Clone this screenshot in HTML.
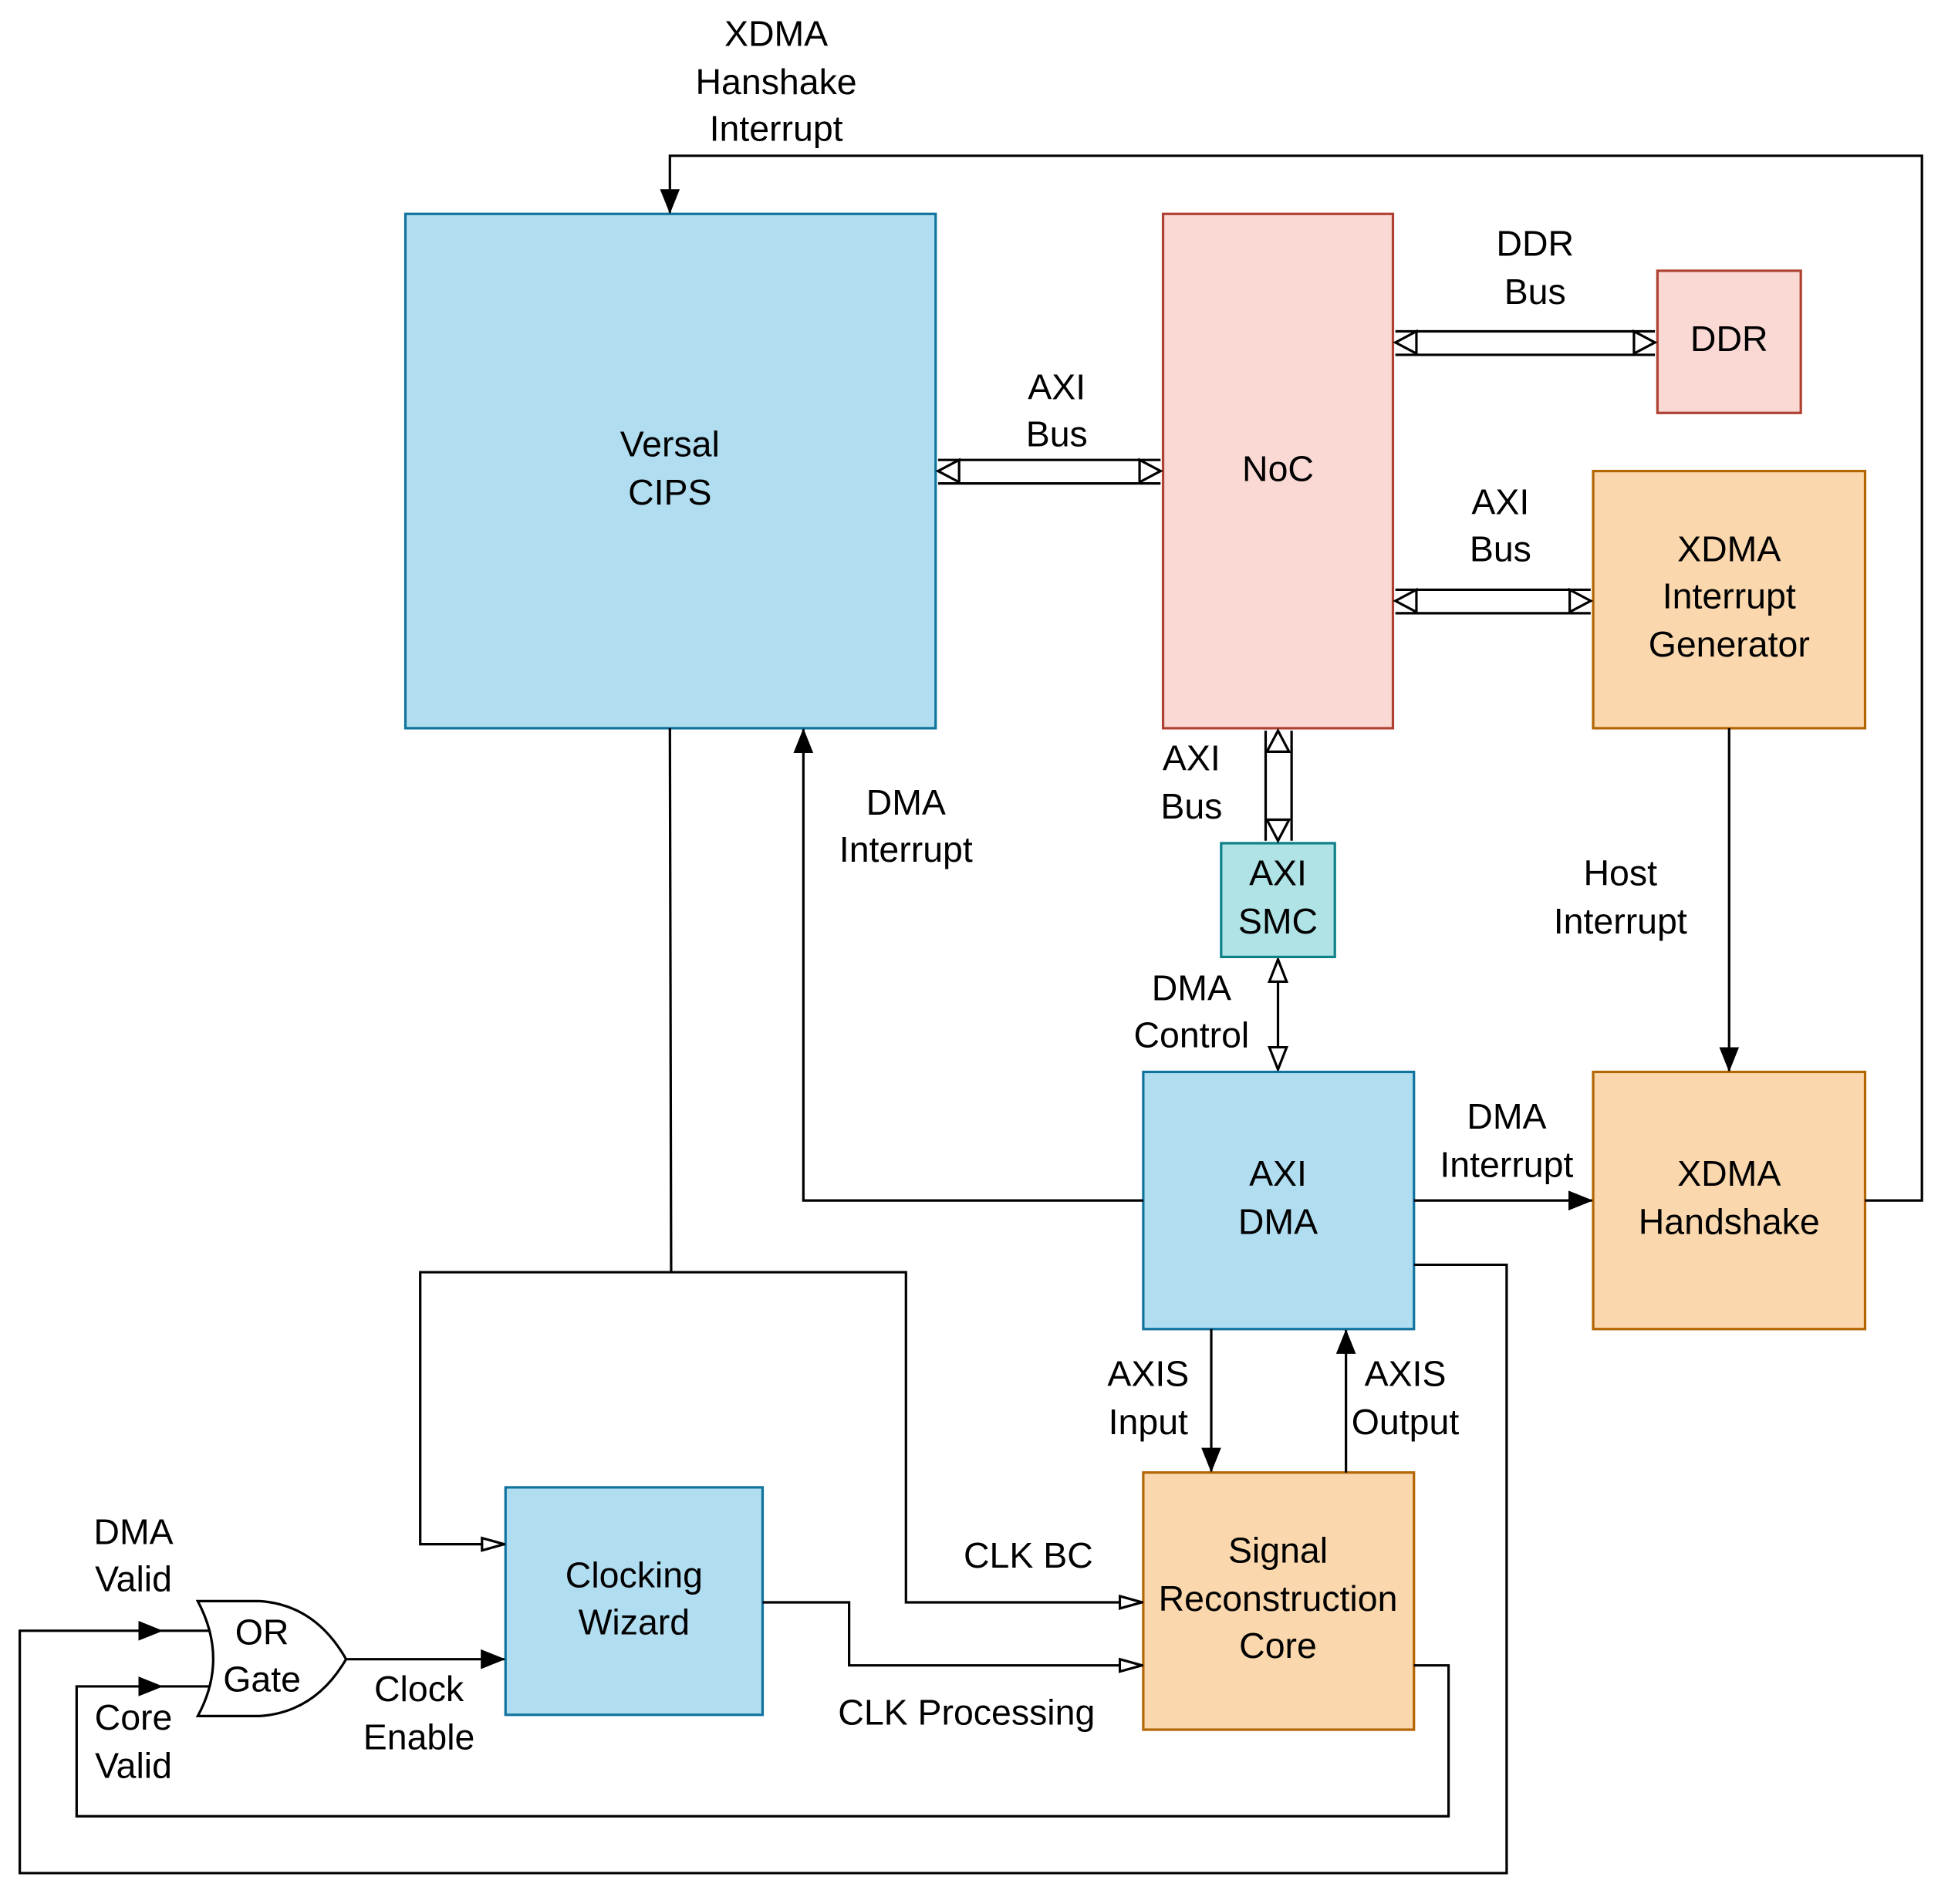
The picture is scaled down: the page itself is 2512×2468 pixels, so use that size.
<!DOCTYPE html>
<html><head><meta charset="utf-8"><style>html,body{margin:0;padding:0;background:#fff}svg{display:block}</style></head>
<body>
<svg width="2512" height="2468" viewBox="0 0 1568 1540" preserveAspectRatio="none" xmlns="http://www.w3.org/2000/svg" font-family="Liberation Sans, sans-serif" font-size="29">
<defs>
<marker id="a" markerWidth="20" markerHeight="16" refX="19" refY="8" orient="auto" markerUnits="userSpaceOnUse"><path d="M0,0L20,8L0,16z" fill="#000"/></marker>
<marker id="o" markerWidth="20" markerHeight="14" refX="19" refY="7" orient="auto" markerUnits="userSpaceOnUse"><path d="M1,2L19,7L1,12z" fill="#fff" stroke="#000" stroke-width="2"/></marker>
<marker id="h" markerWidth="20" markerHeight="18" refX="19" refY="9" orient="auto-start-reverse" markerUnits="userSpaceOnUse"><path d="M1,2L19,9L1,16z" fill="#fff" stroke="#000" stroke-width="2"/></marker>
</defs>
<g stroke-width="2">
<rect x="328" y="173" width="429" height="416" fill="#b1ddf0" stroke="#10739e"/>
<rect x="941" y="173" width="186" height="416" fill="#fad9d5" stroke="#ae4132"/>
<rect x="1341" y="219" width="116" height="115" fill="#fad9d5" stroke="#ae4132"/>
<rect x="1289" y="381" width="220" height="208" fill="#fad7ac" stroke="#b46504"/>
<rect x="988" y="682" width="92" height="92" fill="#b0e3e6" stroke="#0e8088"/>
<rect x="925" y="867" width="219" height="208" fill="#b1ddf0" stroke="#10739e"/>
<rect x="1289" y="867" width="220" height="208" fill="#fad7ac" stroke="#b46504"/>
<rect x="925" y="1191" width="219" height="208" fill="#fad7ac" stroke="#b46504"/>
<rect x="409" y="1203" width="208" height="184" fill="#b1ddf0" stroke="#10739e"/>
</g>
<g fill="none" stroke="#000" stroke-width="2">
<path d="M759,372H939M759,391H939"/>
<path d="M759,381l17,-9v18z M939,381l-17,-9v18z" fill="#fff"/>
<path d="M1129,268H1339M1129,287H1339"/>
<path d="M1129,277l17,-9v18z M1339,277l-17,-9v18z" fill="#fff"/>
<path d="M1129,477H1287M1129,496H1287"/>
<path d="M1129,486l17,-9v18z M1287,486l-17,-9v18z" fill="#fff"/>
<path d="M1024,591V680M1045,591V680"/>
<path d="M1034,591l-9,17h18z M1034,680l-9,-17h18z" fill="#fff"/>
<path d="M1034,776V865" marker-start="url(#h)" marker-end="url(#h)"/>
<path d="M1509,971H1555V126H542V172" marker-end="url(#a)"/>
<path d="M1399,589V866" marker-end="url(#a)"/>
<path d="M1144,971H1288" marker-end="url(#a)"/>
<path d="M925,971H650V590" marker-end="url(#a)"/>
<path d="M542,589L543,1029H340V1249H408" marker-end="url(#o)"/>
<path d="M543,1029H733V1296H924" marker-end="url(#o)"/>
<path d="M617,1296H687V1347H924" marker-end="url(#o)"/>
<path d="M980,1075V1190" marker-end="url(#a)"/>
<path d="M1089,1191V1076" marker-end="url(#a)"/>
<path d="M1144,1023H1219V1515H16V1319H131" marker-end="url(#a)"/>
<path d="M1144,1347H1172V1469H62V1364H131" marker-end="url(#a)"/>
<path d="M131,1319H172M131,1364H172"/>
<path d="M280,1342H408" marker-end="url(#a)"/>
<path d="M160,1295H210Q255,1298 280,1342Q255,1385 210,1388H160Q185,1342 160,1295z" fill="#fff"/>
</g>
<g text-anchor="middle" fill="#000">
<text x="628" y="37">XDMA</text><text x="628" y="76">Hanshake</text><text x="628" y="114">Interrupt</text>
<text x="542" y="369">Versal</text><text x="542" y="408">CIPS</text>
<text x="1034" y="389">NoC</text>
<text x="1399" y="284">DDR</text>
<text x="1242" y="207">DDR</text><text x="1242" y="246">Bus</text>
<text x="855" y="323">AXI</text><text x="855" y="361">Bus</text>
<text x="1214" y="416">AXI</text><text x="1214" y="454">Bus</text>
<text x="1399" y="454">XDMA</text><text x="1399" y="492">Interrupt</text><text x="1399" y="531">Generator</text>
<text x="964" y="623">AXI</text><text x="964" y="662">Bus</text>
<text x="733" y="659">DMA</text><text x="733" y="697">Interrupt</text>
<text x="1034" y="716">AXI</text><text x="1034" y="755">SMC</text>
<text x="1311" y="716">Host</text><text x="1311" y="755">Interrupt</text>
<text x="964" y="809">DMA</text><text x="964" y="847">Control</text>
<text x="1219" y="913">DMA</text><text x="1219" y="952">Interrupt</text>
<text x="1034" y="959">AXI</text><text x="1034" y="998">DMA</text>
<text x="1399" y="959">XDMA</text><text x="1399" y="998">Handshake</text>
<text x="929" y="1121">AXIS</text><text x="929" y="1160">Input</text>
<text x="1137" y="1121">AXIS</text><text x="1137" y="1160">Output</text>
<text x="108" y="1249">DMA</text><text x="108" y="1287">Valid</text>
<text x="832" y="1268">CLK BC</text>
<text x="1034" y="1264">Signal</text><text x="1034" y="1303">Reconstruction</text><text x="1034" y="1341">Core</text>
<text x="513" y="1284">Clocking</text><text x="513" y="1322">Wizard</text>
<text x="212" y="1330">OR</text><text x="212" y="1368">Gate</text>
<text x="339" y="1376">Clock</text><text x="339" y="1415">Enable</text>
<text x="108" y="1399">Core</text><text x="108" y="1438">Valid</text>
<text x="782" y="1395">CLK Processing</text>
</g>
</svg>
</body></html>
